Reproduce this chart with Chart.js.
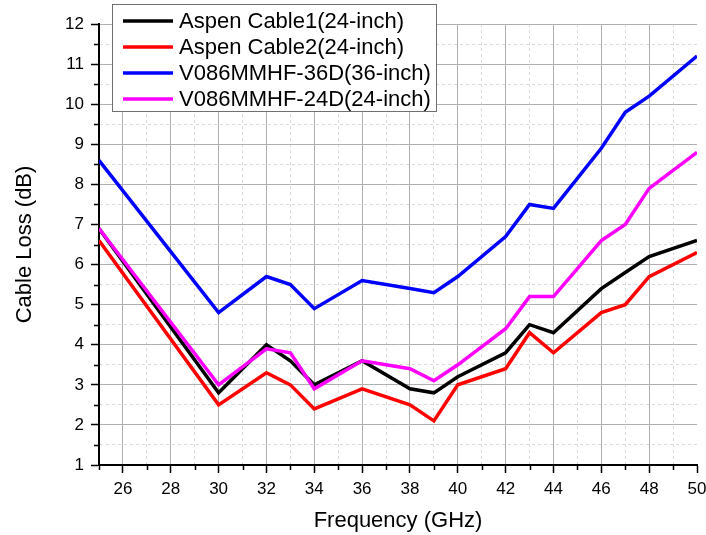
<!DOCTYPE html>
<html>
<head>
<meta charset="utf-8">
<title>Cable Loss</title>
<script src="https://cdn.jsdelivr.net/npm/chart.js@4.4.1/dist/chart.umd.min.js"></script>
<style>
  body { margin: 0; background: #fff; }
  #wrap { width: 706px; height: 535px; }
</style>
</head>
<body>
<div id="wrap"><canvas id="mycanvas" width="706" height="535"></canvas></div>
<script>
var frequency = [25, 30, 32, 33, 34, 36, 38, 39, 40, 42, 43, 44, 46, 47, 48, 50];

var aspen1 = [6.9, 2.8, 4.0, 3.6, 3.0, 3.6, 2.9, 2.8, 3.2, 3.8, 4.5, 4.3, 5.4, 5.8, 6.2, 6.6];
var aspen2 = [6.6, 2.5, 3.3, 3.0, 2.4, 2.9, 2.5, 2.1, 3.0, 3.4, 4.3, 3.8, 4.8, 5.0, 5.7, 6.3];
var v086_36 = [8.6, 4.8, 5.7, 5.5, 4.9, 5.6, 5.4, 5.3, 5.7, 6.7, 7.5, 7.4, 8.9, 9.8, 10.2, 11.2];
var v086_24 = [6.9, 3.0, 3.9, 3.8, 2.9, 3.6, 3.4, 3.1, 3.5, 4.4, 5.2, 5.2, 6.6, 7.0, 7.9, 8.8];

var seriesNames = ['Aspen Cable1(24-inch)', 'Aspen Cable2(24-inch)', 'V086MMHF-36D(36-inch)', 'V086MMHF-24D(24-inch)'];

var xTickLabels = [26, 28, 30, 32, 34, 36, 38, 40, 42, 44, 46, 48, 50];
var yTickLabels = [1, 2, 3, 4, 5, 6, 7, 8, 9, 10, 11, 12];

var FONT = '"Liberation Sans", Arial, sans-serif';

function points(ys) {
  return ys.map(function(y, i) { return {x: frequency[i], y: y}; });
}

// major ticks come from the label arrays, minor ones sit half way between
function tickList(labels, first, half) {
  var out = [];
  for (var v = first; v <= labels[labels.length - 1] + 1e-9; v += half) {
    out.push({value: Math.round(v * 100) / 100});
  }
  return out;
}
function isMajor(labels, v) {
  return labels.indexOf(v) !== -1;
}

// short minor tick marks (chart.js uses one tick length for all)
var minorTicks = {
  id: 'minorTicks',
  afterDraw: function(chart) {
    var ctx = chart.ctx;
    var xs = chart.scales.x, ys = chart.scales.y;
    ctx.save();
    ctx.strokeStyle = '#000';
    ctx.lineWidth = 1.5;
    ctx.beginPath();
    xs.ticks.forEach(function(t) {
      if (isMajor(xTickLabels, t.value)) return;
      var px = Math.round(xs.getPixelForValue(t.value)) + 0.5;
      ctx.moveTo(px, xs.top);
      ctx.lineTo(px, xs.top + 5);
    });
    ys.ticks.forEach(function(t) {
      if (isMajor(yTickLabels, t.value)) return;
      var py = Math.round(ys.getPixelForValue(t.value)) + 0.5;
      ctx.moveTo(ys.right - 5, py);
      ctx.lineTo(ys.right, py);
    });
    ctx.stroke();
    ctx.restore();
  }
};

// boxed legend laid over the top left of the plot
var boxLegend = {
  id: 'boxLegend',
  afterDraw: function(chart) {
    var ctx = chart.ctx;
    var left = 112.5, top = 4.5, w = 324, h = 107;
    ctx.save();
    ctx.fillStyle = '#fff';
    ctx.fillRect(left, top, w, h);
    ctx.strokeStyle = '#707070';
    ctx.lineWidth = 1;
    ctx.strokeRect(left, top, w, h);
    ctx.font = '22px ' + FONT;
    ctx.textBaseline = 'middle';
    ctx.fillStyle = '#000';
    chart.data.datasets.forEach(function(ds, i) {
      var cy = 21 + i * 26;
      ctx.strokeStyle = ds.borderColor;
      ctx.lineWidth = 3.5;
      ctx.beginPath();
      ctx.moveTo(123, cy);
      ctx.lineTo(173, cy);
      ctx.stroke();
      ctx.fillText(ds.label, 179, cy + 1);
    });
    ctx.restore();
  }
};

var ctx = document.getElementById('mycanvas');

var lossChart = new Chart(ctx, {
  type: 'line',
  data: {
    datasets: [
      {label: seriesNames[0], data: points(aspen1), borderColor: '#000000', order: 4},
      {label: seriesNames[1], data: points(aspen2), borderColor: '#ff0000', order: 3},
      {label: seriesNames[2], data: points(v086_36), borderColor: '#0000ff', order: 2},
      {label: seriesNames[3], data: points(v086_24), borderColor: '#ff00ff', order: 1}
    ]
  },
  options: {
    responsive: false,
    animation: false,
    layout: {padding: {top: 24, right: 9, bottom: 0, left: 0}},
    elements: {
      line: {borderWidth: 3.5, tension: 0, fill: false, borderJoinStyle: 'miter'},
      point: {radius: 0, hoverRadius: 0}
    },
    plugins: {
      legend: {display: false},
      tooltip: {enabled: false}
    },
    scales: {
      x: {
        type: 'linear',
        min: 25,
        max: 50,
        afterBuildTicks: function(scale) { scale.ticks = tickList(xTickLabels, 25, 1); },
        afterFit: function(scale) { scale.height = 70; scale.paddingLeft = 0; scale.paddingRight = 0; },
        ticks: {
          autoSkip: false,
          maxRotation: 0,
          padding: 6,
          color: '#000',
          font: {family: FONT, size: 17},
          callback: function(v) { return isMajor(xTickLabels, v) ? String(v) : ''; }
        },
        grid: {
          color: function(c) {
            if (!c.tick || c.tick.value === 50) return 'rgba(0,0,0,0)';
            return isMajor(xTickLabels, c.tick.value) ? '#b0b0b0' : '#dadada';
          },
          lineWidth: 1,
          tickLength: 8,
          tickWidth: 1.5,
          tickColor: function(c) {
            return c.tick && isMajor(xTickLabels, c.tick.value) ? '#000' : 'rgba(0,0,0,0)';
          }
        },
        border: {
          display: true,
          color: '#000',
          width: 2,
          dash: function(c) {
            return c.tick && !isMajor(xTickLabels, c.tick.value) ? [3, 3] : [];
          }
        },
        title: {
          display: true,
          text: 'Frequency (GHz)',
          color: '#000',
          font: {family: FONT, size: 22},
          padding: {top: 0, bottom: 1}
        }
      },
      y: {
        min: 1,
        max: 12,
        afterBuildTicks: function(scale) { scale.ticks = tickList(yTickLabels, 1, 0.5); },
        afterFit: function(scale) { scale.width = 99; },
        ticks: {
          autoSkip: false,
          padding: 7,
          color: '#000',
          font: {family: FONT, size: 17},
          callback: function(v) { return isMajor(yTickLabels, v) ? String(v) : ''; }
        },
        grid: {
          color: function(c) {
            if (!c.tick) return 'rgba(0,0,0,0)';
            return isMajor(yTickLabels, c.tick.value) ? '#b0b0b0' : '#dadada';
          },
          lineWidth: 1,
          tickLength: 8,
          tickWidth: 1.5,
          tickColor: function(c) {
            return c.tick && isMajor(yTickLabels, c.tick.value) ? '#000' : 'rgba(0,0,0,0)';
          }
        },
        border: {
          display: true,
          color: '#000',
          width: 2,
          dash: function(c) {
            return c.tick && !isMajor(yTickLabels, c.tick.value) ? [3, 3] : [];
          }
        },
        title: {
          display: true,
          text: 'Cable Loss (dB)',
          color: '#000',
          font: {family: FONT, size: 22},
          padding: {top: 12, bottom: 0}
        }
      }
    }
  },
  plugins: [minorTicks, boxLegend]
});
</script>
</body>
</html>
